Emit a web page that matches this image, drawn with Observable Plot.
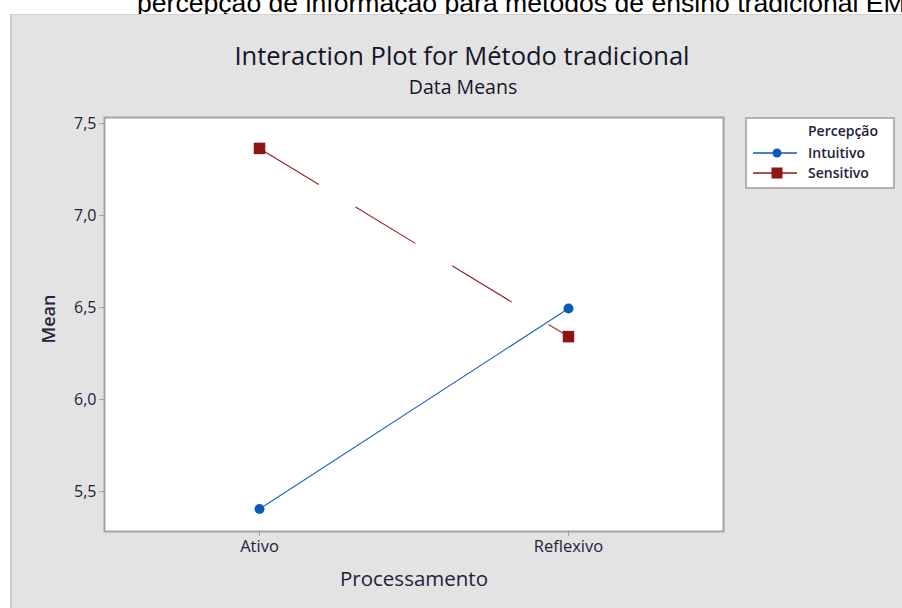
<!DOCTYPE html>
<html>
<head>
<meta charset="utf-8">
<script src="https://cdn.jsdelivr.net/npm/d3@7"></script>
<script src="https://cdn.jsdelivr.net/npm/@observablehq/plot@0.6"></script>
<style>
  html, body { margin: 0; padding: 0; background: #fff; }
  #wrap { position: relative; width: 902px; height: 608px; overflow: hidden; background: #fff; font-family: "Open Sans", "Noto Sans", sans-serif; }
  #panel { position: absolute; left: 10px; top: 14px; right: 0; bottom: 0; background: #e3e3e3; border-left: 2px solid #cccccc; border-top: 1px solid #d2d2d2; }
  #caption { position: absolute; left: 137px; top: -10px; white-space: nowrap; font-family: "Liberation Sans", Arial, sans-serif; font-size: 26.6px; line-height: 26px; color: #000; }
  #title { position: absolute; left: 0; width: 924px; top: 38px; text-align: center; font-size: 25.5px; line-height: 34px; color: #15152a; }
  #subtitle { position: absolute; left: 0; width: 926px; top: 74px; text-align: center; font-size: 19.5px; line-height: 26px; color: #15152a; }
  #mean { position: absolute; left: 48px; top: 319px; transform: translate(-50%, -50%) rotate(-90deg); font-size: 18px; font-weight: 600; line-height: 20px; color: #22223a; white-space: nowrap; }
  #chart { position: absolute; left: 0; top: 0; }
  #legend { position: absolute; left: 745px; top: 117px; }
</style>
</head>
<body>
<div id="wrap">
  <div id="caption">percepção de informação para métodos de ensino tradicional EM</div>
  <div id="panel"></div>
  <div id="title">Interaction Plot for Método tradicional</div>
  <div id="subtitle">Data Means</div>
  <div id="chart"></div>
  <div id="mean">Mean</div>
  <div id="legend"></div>
</div>
<script>
// ---- data ----
const processamento = ["Ativo", "Reflexivo"];
const percepcao = ["Intuitivo", "Sensitivo"];
const intuitivoMeans = [5.405, 6.495];
const sensitivoMeans = [7.365, 6.342];
const yTicks = [5.5, 6.0, 6.5, 7.0, 7.5];

const colors = { Intuitivo: "#0a5bb5", Sensitivo: "#8f1515" };

const rows = [];
processamento.forEach((p, i) => {
  rows.push({ proc: p, grupo: "Intuitivo", mean: intuitivoMeans[i] });
  rows.push({ proc: p, grupo: "Sensitivo", mean: sensitivoMeans[i] });
});
const intu = rows.filter(d => d.grupo === "Intuitivo");
const sens = rows.filter(d => d.grupo === "Sensitivo");

const textColor = "#22223a";

const chart = Plot.plot({
  width: 902,
  height: 608,
  marginLeft: 104,
  marginRight: 179,
  marginTop: 117,
  marginBottom: 77,
  style: { background: "transparent", fontFamily: "'Open Sans', 'Noto Sans', sans-serif" },
  x: { type: "point", domain: processamento, padding: 0.5, label: null },
  y: { domain: [5.283, 7.533], label: null },
  marks: [
    Plot.frame({ fill: "white", stroke: "none" }),
    Plot.line(intu, { x: "proc", y: "mean", stroke: "#1f66c4", strokeWidth: 1.1 }),
    Plot.line(sens, { x: "proc", y: "mean", stroke: "#9a2020", strokeWidth: 1.1, strokeDasharray: "69,44" }),
    Plot.dot(intu, { x: "proc", y: "mean", r: 5, fill: colors.Intuitivo, symbol: "circle" }),
    Plot.dot(sens, { x: "proc", y: "mean", r: 6.5, fill: colors.Sensitivo, symbol: "square" }),
    Plot.frame({ stroke: "#a3a3a3", strokeWidth: 2 }),
    Plot.axisY({ ticks: yTicks, tickFormat: d => d.toFixed(1).replace(".", ","), tickSize: 5, tickPadding: 3, stroke: "#a0a0a0", fill: textColor, fontSize: 16, label: null }),
    Plot.axisX({ tickSize: 5, tickPadding: 4, stroke: "#a0a0a0", fill: textColor, fontSize: 16.5, label: null }),
    Plot.text(["Processamento"], { frameAnchor: "bottom", dy: 54, fontSize: 20.5, fill: textColor })
  ]
});
document.getElementById("chart").appendChild(chart);

// ---- legend ----
const lw = 148, lh = 70;
const leg = d3.create("svg").attr("width", lw + 2).attr("height", lh + 2);
leg.append("rect").attr("x", 1).attr("y", 1).attr("width", lw).attr("height", lh)
  .attr("fill", "white").attr("stroke", "#a3a3a3").attr("stroke-width", 1.6);
leg.append("text").attr("x", 63).attr("y", 19).attr("font-size", 14).attr("font-weight", 600).attr("fill", textColor)
  .attr("font-family", "'Open Sans', sans-serif").attr("textLength", 70).text("Percepção");
percepcao.forEach((g, i) => {
  const y = 36 + i * 20;
  leg.append("line").attr("x1", 8).attr("x2", 52).attr("y1", y).attr("y2", y)
    .attr("stroke", colors[g]).attr("stroke-width", 1.5);
  if (g === "Intuitivo") {
    leg.append("circle").attr("cx", 32).attr("cy", y).attr("r", 4.5).attr("fill", colors[g]);
  } else {
    leg.append("rect").attr("x", 26.5).attr("y", y - 5.5).attr("width", 11).attr("height", 11).attr("fill", colors[g]);
  }
  leg.append("text").attr("x", 63).attr("y", y + 5).attr("font-size", 14).attr("font-weight", 600).attr("fill", textColor)
    .attr("font-family", "'Open Sans', sans-serif").text(g);
});
document.getElementById("legend").appendChild(leg.node());
</script>
</body>
</html>
